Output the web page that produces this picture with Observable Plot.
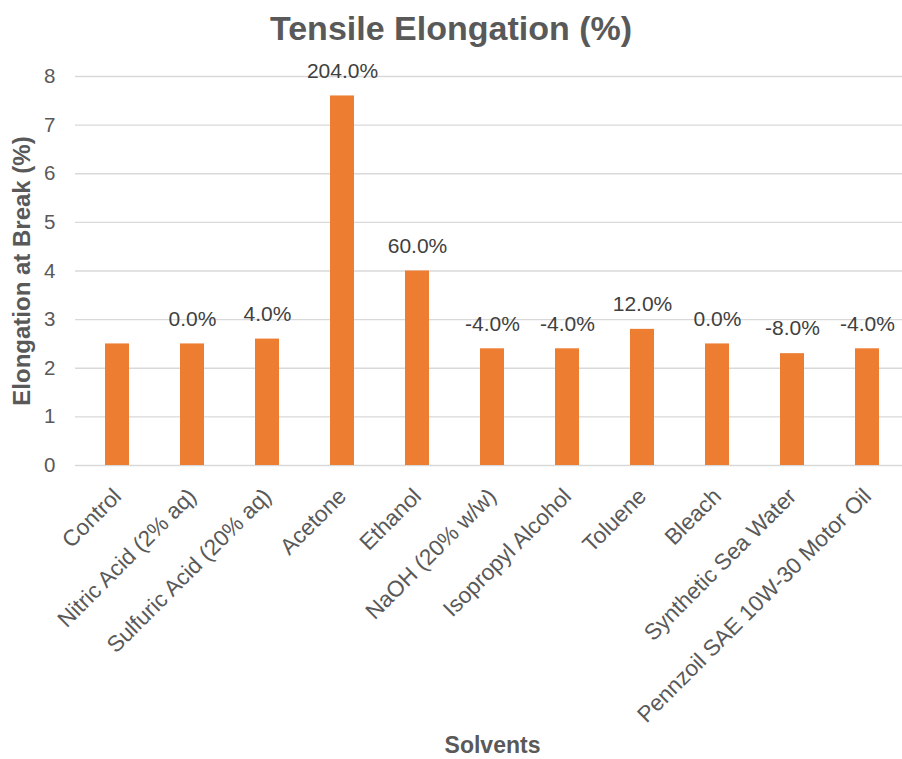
<!DOCTYPE html>
<html>
<head>
<meta charset="utf-8">
<script src="https://cdn.jsdelivr.net/npm/d3@7"></script>
<script src="https://cdn.jsdelivr.net/npm/@observablehq/plot@0.6"></script>
<style>
  body { margin: 0; background: #fff; font-family: "Liberation Sans", Arial, sans-serif; }
  #title { height: 56px; line-height: 56px; text-align: center; font-size: 34px; font-weight: bold; color: #595959; width: 902px; }
</style>
</head>
<body>
<div id="title">Tensile Elongation (%)</div>
<div id="chart"></div>
<script>
const solvents = ["Control", "Nitric Acid (2% aq)", "Sulfuric Acid (20% aq)", "Acetone", "Ethanol", "NaOH (20% w/w)", "Isopropyl Alcohol", "Toluene", "Bleach", "Synthetic Sea Water", "Pennzoil SAE 10W-30 Motor Oil"];
const elongation = [2.5, 2.5, 2.6, 7.6, 4.0, 2.4, 2.4, 2.8, 2.5, 2.3, 2.4];
const changeLabels = ["", "0.0%", "4.0%", "204.0%", "60.0%", "-4.0%", "-4.0%", "12.0%", "0.0%", "-8.0%", "-4.0%"];
const yTicks = [0, 1, 2, 3, 4, 5, 6, 7, 8];

const data = solvents.map((s, i) => ({solvent: s, value: elongation[i], label: changeLabels[i]}));

const chart = Plot.plot({
  width: 902,
  height: 703,
  marginTop: 20,
  marginBottom: 294,
  marginLeft: 75,
  marginRight: -7,
  style: {fontFamily: "'Liberation Sans', Arial, sans-serif", color: "#595959", background: "#fff"},
  x: {domain: solvents, paddingInner: 0.68, paddingOuter: 0.34, label: null},
  y: {domain: [0, 8], ticks: yTicks, label: null},
  marks: [
    Plot.gridY(yTicks, {stroke: "#d9d9d9", strokeOpacity: 1, strokeWidth: 1.3}),
    Plot.barY(data, {x: "solvent", y: "value", fill: "#ED7D31"}),
    Plot.text(data, {x: "solvent", y: "value", text: "label", dy: -25, fontSize: 21, fill: "#404040"}),
    Plot.axisY(yTicks, {tickSize: 0, tickPadding: 20, fontSize: 20.5, fill: "#595959", label: null}),
    Plot.axisX({tickSize: 0, tickPadding: 27, tickRotate: -45, fontSize: 22.5, fill: "#595959", label: null}),
    Plot.text(["Solvents"], {frameAnchor: "bottom", lineAnchor: "middle", dy: 280, fontSize: 23, fontWeight: "bold", fill: "#595959"}),
    Plot.text(["Elongation at Break (%)"], {frameAnchor: "left", textAnchor: "middle", lineAnchor: "middle", dx: -53, rotate: -90, fontSize: 24, fontWeight: "bold", fill: "#595959"})
  ]
});
document.getElementById("chart").appendChild(chart);
</script>
</body>
</html>
